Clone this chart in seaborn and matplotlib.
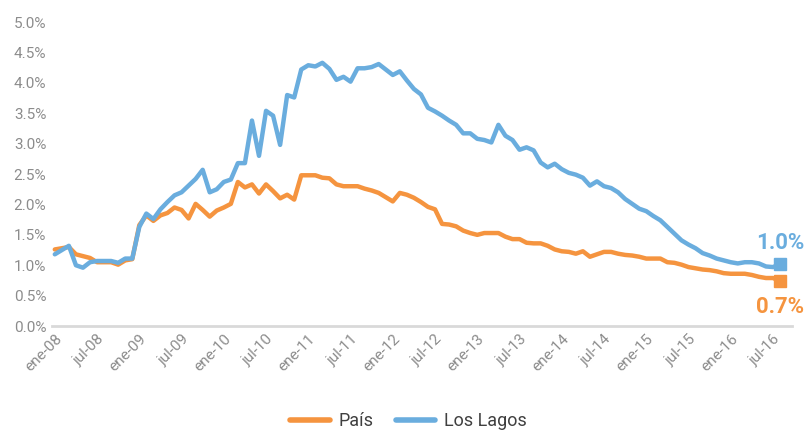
import matplotlib
matplotlib.use('Agg')
import matplotlib.pyplot as plt
import seaborn as sns
import pandas as pd
import numpy as np

# monthly series, ene-08 .. ago-16 (%)
pais = [1.26, 1.28, 1.30, 1.18, 1.15, 1.12, 1.05, 1.05, 1.05, 1.01, 1.08, 1.10,
        1.66, 1.82, 1.73, 1.82, 1.86, 1.95, 1.91, 1.77, 2.01, 1.91, 1.80, 1.90,
        1.95, 2.01, 2.37, 2.28, 2.33, 2.18, 2.33, 2.22, 2.10, 2.16, 2.08, 2.48,
        2.48, 2.48, 2.44, 2.43, 2.33, 2.30, 2.30, 2.30, 2.26, 2.23, 2.19, 2.12,
        2.05, 2.19, 2.16, 2.11, 2.04, 1.96, 1.92, 1.68, 1.67, 1.64, 1.57, 1.53,
        1.50, 1.53, 1.53, 1.53, 1.47, 1.43, 1.43, 1.37, 1.36, 1.36, 1.32, 1.26,
        1.23, 1.22, 1.19, 1.23, 1.14, 1.18, 1.22, 1.22, 1.19, 1.17, 1.16, 1.14,
        1.11, 1.11, 1.11, 1.05, 1.04, 1.01, 0.97, 0.95, 0.93, 0.92, 0.90, 0.87,
        0.86, 0.86, 0.86, 0.84, 0.81, 0.79, 0.79, 0.74]
los_lagos = [1.18, 1.25, 1.32, 1.00, 0.96, 1.05, 1.07, 1.07, 1.07, 1.04, 1.11, 1.11,
             1.63, 1.85, 1.76, 1.92, 2.04, 2.15, 2.20, 2.31, 2.42, 2.57, 2.20, 2.25,
             2.37, 2.41, 2.68, 2.68, 3.38, 2.80, 3.54, 3.46, 2.98, 3.80, 3.76, 4.22,
             4.29, 4.27, 4.33, 4.23, 4.05, 4.10, 4.02, 4.24, 4.24, 4.26, 4.31, 4.22,
             4.13, 4.19, 4.04, 3.90, 3.81, 3.59, 3.53, 3.46, 3.38, 3.31, 3.17, 3.17,
             3.08, 3.06, 3.02, 3.31, 3.13, 3.06, 2.90, 2.94, 2.89, 2.69, 2.61, 2.67,
             2.58, 2.52, 2.49, 2.44, 2.31, 2.38, 2.30, 2.27, 2.20, 2.09, 2.01, 1.93,
             1.89, 1.81, 1.74, 1.63, 1.52, 1.41, 1.34, 1.28, 1.20, 1.16, 1.11, 1.08,
             1.05, 1.03, 1.05, 1.05, 1.03, 0.98, 0.97, 1.02]
tick_labels = ['ene-08', 'jul-08', 'ene-09', 'jul-09', 'ene-10', 'jul-10',
               'ene-11', 'jul-11', 'ene-12', 'jul-12', 'ene-13', 'jul-13',
               'ene-14', 'jul-14', 'ene-15', 'jul-15', 'ene-16', 'jul-16']
series_names = ['País', 'Los Lagos']

ORANGE = '#F5943F'
BLUE = '#6AADDE'
GREY = '#8c8c8c'

sns.set_theme(style="white")
plt.rcParams['font.family'] = ['Roboto', 'DejaVu Sans']

n = len(pais)
df = pd.DataFrame({
    'mes': list(range(n)) * 2,
    'valor': pais + los_lagos,
    'serie': [series_names[0]] * n + [series_names[1]] * n,
})

fig = plt.figure(figsize=(8.09, 4.33), dpi=100)
ax = fig.add_axes([0.064, 0.247, 0.915, 0.702])

sns.lineplot(data=df, x='mes', y='valor', hue='serie',
             palette=[ORANGE, BLUE], linewidth=3.2, ax=ax,
             legend=True)

# end markers + labels
for vals, color, dy in [(los_lagos, BLUE, 0.34), (pais, ORANGE, -0.43)]:
    ax.plot(n - 1, vals[-1], marker='s', markersize=8.5, color=color,
            linestyle='none')
    ax.text(n - 1, vals[-1] + dy, f'{vals[-1]:.1f}%', color=color,
            fontsize=16, fontweight='bold', ha='center', va='center',
            clip_on=False)

ax.set_xlim(-0.43, n - 1 + 1.7)
ax.set_ylim(0, 5)
ax.set_yticks(np.arange(0, 5.01, 0.5))
ax.set_yticklabels([f'{v:.1f}%' for v in np.arange(0, 5.01, 0.5)],
                   color=GREY, fontsize=11)
ax.set_xticks(range(0, n, 6))
ax.set_xticklabels(tick_labels, rotation=45, ha='right',
                   rotation_mode='anchor', color=GREY, fontsize=11)
ax.tick_params(axis='both', length=0, pad=4)
ax.set_xlabel('')
ax.set_ylabel('')

for side in ['top', 'right', 'left']:
    ax.spines[side].set_visible(False)
ax.spines['bottom'].set_color('#d9d9d9')
ax.spines['bottom'].set_linewidth(2)
ax.grid(False)

handles, labels = ax.get_legend_handles_labels()
leg = ax.legend(handles[:2], labels[:2], loc='lower center',
                bbox_to_anchor=(0.482, -0.395), ncol=2, frameon=False,
                fontsize=13, handlelength=2.2, columnspacing=1.2,
                handletextpad=0.5, bbox_transform=ax.transAxes)
for line in leg.get_lines():
    line.set_linewidth(4)
for t in leg.get_texts():
    t.set_color('#404040')

fig.savefig('out.png', dpi=100)
